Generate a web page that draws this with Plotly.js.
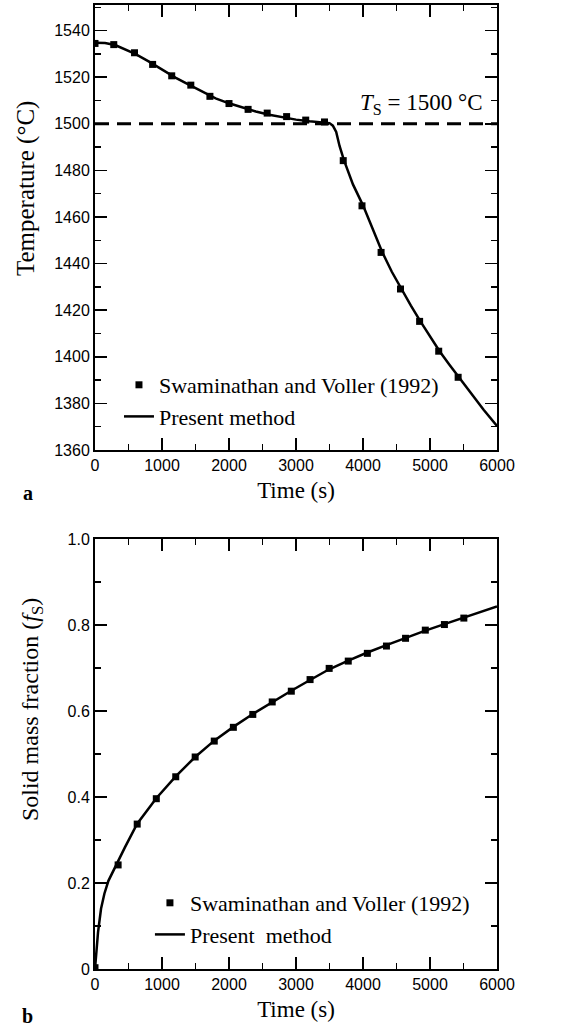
<!DOCTYPE html>
<html>
<head>
<meta charset="utf-8">
<script src="https://cdn.plot.ly/plotly-3.0.1.min.js"></script>
<style>html,body{margin:0;padding:0;background:#fff;}#chart{width:573px;height:1027px;}</style>
</head>
<body>
<div id="chart"></div>
<script>
// ---- Panel a: temperature history ----
const refTimeA = [0, 280, 590, 860, 1145, 1430, 1715, 2000, 2285, 2570, 2860, 3145, 3425, 3705, 3985, 4270, 4560, 4845, 5130, 5420];
const refTempA = [1534.5, 1534, 1530.5, 1525.5, 1520.6, 1516.6, 1511.8, 1508.7, 1506.2, 1504.6, 1503.1, 1501.6, 1500.8, 1484.2, 1464.8, 1444.8, 1429.1, 1415.2, 1402.4, 1391.2];
const presTimeA = [0, 150, 300, 450, 600, 800, 1000, 1200, 1400, 1600, 1800, 2000, 2200, 2400, 2600, 2800, 3000, 3200, 3400, 3500, 3550, 3600, 3650, 3714, 3850, 4000, 4150, 4286, 4430, 4571, 4715, 4857, 5000, 5143, 5290, 5429, 5600, 5800, 6000];
const presTempA = [1534.8, 1534.7, 1533.8, 1532.0, 1530.0, 1526.8, 1523.2, 1519.8, 1516.8, 1513.9, 1510.9, 1508.8, 1507.0, 1505.3, 1503.9, 1502.7, 1501.8, 1501.1, 1500.6, 1500.3, 1499.2, 1496.5, 1490.5, 1484.5, 1474, 1465, 1454.5, 1445, 1436.5, 1429, 1422, 1415.2, 1408.7, 1402.4, 1396.6, 1391.2, 1384.6, 1377.3, 1370.3];
const solidusX = [0, 6000];
const solidusT = [1500, 1500];
const tempTicks = [1360, 1380, 1400, 1420, 1440, 1460, 1480, 1500, 1520, 1540];

// ---- Panel b: solid mass fraction ----
const refTimeB = [0, 345, 630, 915, 1205, 1495, 1780, 2065, 2355, 2645, 2930, 3210, 3495, 3780, 4065, 4350, 4635, 4930, 5215, 5505];
const refFsB = [0.003, 0.242, 0.337, 0.396, 0.447, 0.493, 0.530, 0.562, 0.592, 0.621, 0.646, 0.673, 0.699, 0.716, 0.734, 0.751, 0.769, 0.788, 0.801, 0.816];
const presTimeB = [0, 20, 45, 90, 140, 200, 270, 345, 450, 630, 915, 1205, 1495, 1780, 2065, 2355, 2645, 2930, 3210, 3495, 3780, 4065, 4350, 4635, 4930, 5215, 5505, 6000];
const presFsB = [0, 0.045, 0.085, 0.14, 0.175, 0.205, 0.228, 0.252, 0.284, 0.338, 0.397, 0.448, 0.493, 0.531, 0.563, 0.593, 0.621, 0.647, 0.672, 0.697, 0.717, 0.736, 0.753, 0.770, 0.787, 0.802, 0.817, 0.843];
const fsTickVals = [0, 0.2, 0.4, 0.6, 0.8, 1.0];
const fsTickText = ['0', '0.2', '0.4', '0.6', '0.8', '1.0'];
const timeTicks = [0, 1000, 2000, 3000, 4000, 5000, 6000];

const legendRef = 'Swaminathan and Voller (1992)';
const SERIF = '"Liberation Serif", "Times New Roman", serif';
const SANS = '"Liberation Sans", Arial, sans-serif';

const traces = [
  {x: solidusX, y: solidusT, xaxis: 'x', yaxis: 'y', mode: 'lines', showlegend: false,
   line: {color: '#000', width: 3, dash: '14px,8px'}, hoverinfo: 'skip'},
  {x: presTimeA, y: presTempA, xaxis: 'x', yaxis: 'y', mode: 'lines', name: 'Present method',
   line: {color: '#000', width: 2.5}, legend: 'legend', legendrank: 2},
  {x: refTimeA, y: refTempA, xaxis: 'x', yaxis: 'y', mode: 'markers', name: legendRef,
   marker: {symbol: 'square', size: 7, color: '#000'}, legend: 'legend', legendrank: 1},
  {x: presTimeB, y: presFsB, xaxis: 'x2', yaxis: 'y2', mode: 'lines', name: 'Present  method',
   line: {color: '#000', width: 2.5}, legend: 'legend2', legendrank: 2},
  {x: refTimeB, y: refFsB, xaxis: 'x2', yaxis: 'y2', mode: 'markers', name: legendRef,
   marker: {symbol: 'square', size: 7, color: '#000'}, legend: 'legend2', legendrank: 1}
];

function xAx(anchor) {
  return {
    anchor: anchor, range: [0, 6000], domain: [0, 1],
    tickvals: timeTicks, ticks: 'inside', ticklen: 12, tickwidth: 1.5, tickcolor: '#000',
    minor: {dtick: 500, ticks: 'inside', ticklen: 6, tickwidth: 1.5, tickcolor: '#000'},
    showline: true, linecolor: '#000', linewidth: 2, mirror: 'ticks',
    showgrid: false, zeroline: false,
    tickfont: {family: SANS, size: 16, color: '#000'},
    title: {text: 'Time (s)', font: {family: SERIF, size: 23, color: '#000'}, standoff: 9},
    automargin: false
  };
}
function yAx(anchor, range, domain, vals, text, minorDtick) {
  return {
    anchor: anchor, range: range, domain: domain,
    tickvals: vals, ticktext: text, ticks: 'inside', ticklen: 12, tickwidth: 1.5, tickcolor: '#000',
    minor: {dtick: minorDtick, ticks: 'inside', ticklen: 6, tickwidth: 1.5, tickcolor: '#000'},
    showline: true, linecolor: '#000', linewidth: 2, mirror: 'ticks',
    showgrid: false, zeroline: false,
    tickfont: {family: SANS, size: 16, color: '#000'},
    automargin: false
  };
}

// plot area: top = 5 px, height = 964 px ; helpers convert page px to plot-area fractions
const fy = (py) => 1 - (py - 5) / 964;
const fx = (px) => (px - 95) / 402.5;

const layout = {
  width: 573, height: 1027,
  margin: {l: 95, r: 75.5, t: 5, b: 58},
  paper_bgcolor: '#fff', plot_bgcolor: '#fff',
  font: {family: SERIF, color: '#000'},
  xaxis: xAx('y'),
  yaxis: yAx('x', [1360, 1551], [0.5384, 1], tempTicks, tempTicks.map(String), 10),
  xaxis2: xAx('y2'),
  yaxis2: yAx('x2', [0, 1], [0, 0.4461], fsTickVals, fsTickText, 0.1),
  legend: {x: fx(119), xanchor: 'left', y: fy(364), yanchor: 'top', bgcolor: 'rgba(0,0,0,0)',
           font: {family: SERIF, size: 22, color: '#000'}, tracegroupgap: 0, itemwidth: 30,
           traceorder: 'normal'},
  legend2: {x: fx(150), xanchor: 'left', y: fy(882), yanchor: 'top', bgcolor: 'rgba(0,0,0,0)',
           font: {family: SERIF, size: 22, color: '#000'}, tracegroupgap: 0, itemwidth: 30,
           traceorder: 'normal'},
  showlegend: true,
  annotations: [
    {xref: 'x', yref: 'y', x: 6000, y: 1500, xanchor: 'right', yanchor: 'bottom', xshift: -12, yshift: 4,
     text: '<i>T</i><sub>S</sub> = 1500 °C', showarrow: false, font: {family: SERIF, size: 23, color: '#000'}},
    {xref: 'paper', yref: 'paper', x: fx(26), y: fy(188), xanchor: 'center', yanchor: 'middle',
     text: 'Temperature (°C)', textangle: -90, showarrow: false, font: {family: SERIF, size: 25, color: '#000'}},
    {xref: 'paper', yref: 'paper', x: fx(32), y: fy(710), xanchor: 'center', yanchor: 'middle',
     text: 'Solid mass fraction (<i>f</i><sub>S</sub>)', textangle: -90, showarrow: false, font: {family: SERIF, size: 24, color: '#000'}},
    {xref: 'paper', yref: 'paper', x: fx(28), y: fy(493), xanchor: 'center', yanchor: 'middle',
     text: '<b>a</b>', showarrow: false, font: {family: SERIF, size: 20, color: '#000'}},
    {xref: 'paper', yref: 'paper', x: fx(27), y: fy(1016), xanchor: 'center', yanchor: 'middle',
     text: '<b>b</b>', showarrow: false, font: {family: SERIF, size: 20, color: '#000'}}
  ]
};

Plotly.newPlot('chart', traces, layout, {displayModeBar: false, staticPlot: true});
</script>
</body>
</html>
